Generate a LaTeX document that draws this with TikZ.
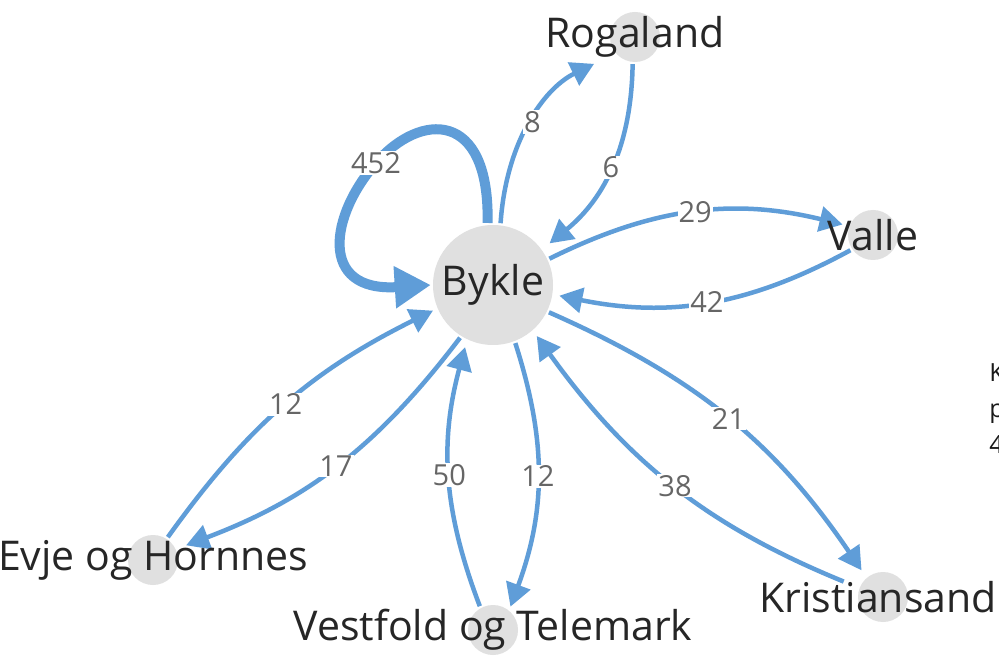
\documentclass[tikz,border=0pt]{standalone}
\usepackage{fontspec}
\setmainfont{Open Sans}
\usetikzlibrary{arrows.meta}
\definecolor{flowblue}{RGB}{95,157,216}
\definecolor{dotgray}{RGB}{224,224,224}
\begin{document}
\begin{tikzpicture}[x=1pt, y=1pt, line width=4.5pt,
    circ/.style={circle, fill=dotgray, minimum size=#1, inner sep=0pt},
    flow/.style={draw=flowblue, -{Triangle[length=23pt,width=25pt]}, shorten >=5pt},
    num/.style={fill=white, inner sep=1pt, text=black!60, font=\fontsize{29}{29}\selectfont},
    placename/.style={text=black!85, font=\fontsize{41}{41}\selectfont}]
    \fill[white] (0,0) rectangle (999,657);
    \useasboundingbox (0,0) rectangle (999,657);
    % the places, bykle in the middle
    \node[circ=120pt] (bykle) at (493,372) {};
    \foreach \p/\x/\y in {roga/635/620, valle/873/422, kris/883/60, vest/493/27, evje/153/97}{
        \node[circ=50pt] (\p) at (\x,\y) {};
    }
    % self loop, thick
    \draw[flowblue, line width=10pt, -{Triangle[length=36pt,width=40pt]}]
        (bykle.95) .. controls (490,548) and (420,545) .. (376,494) node[num]{452}
        .. controls (330,442) and (318,365) .. (bykle.180);
    % out and back
    \draw[flow, shorten >=22pt] (bykle.83) to[bend left=30] node[num]{8} (roga.219);
    \draw[flow, shorten >=8pt] (roga.265) to[bend left=25] node[num]{6} (bykle.36);
    \draw[flow] (bykle.25) to[bend left=20] node[num]{29} (valle.160);
    \draw[flow] (valle.214) to[bend left=20] node[num]{42} (bykle.351);
    \draw[flow, shorten >=7pt] (bykle.334) to[bend left=16] node[num]{21} (kris.130);
    \draw[flow, shorten <=15pt] (kris.159) to[bend left=16] node[num]{38} (bykle.311);
    \draw[flow, shorten >=2pt] (bykle.291) to[bend left=19] node[num]{12} (vest.52);
    \draw[flow, shorten >=6pt] (vest.119) to[bend left=18] node[num]{50} (bykle.245);
    \draw[flow, shorten >=3pt] (evje.57) to[bend left=14] node[num]{12} (bykle.203);
    \draw[flow, shorten >=9pt] (bykle.238) to[bend left=16] node[num]{17} (evje.25);
    % names on top
    \node[placename] (byklename) at (bykle) {Bykle};
    \node[placename] (roganame) at (roga) {Rogaland};
    \node[placename] (vallename) at (valle) {Valle};
    \node[placename, xshift=-5pt] (krisname) at (kris) {Kristiansand};
    \node[placename] (vestname) at (vest) {Vestfold og Telemark};
    \node[placename] (evjename) at (evje) {Evje og Hornnes};
    % cut off text at the right edge
    \node[anchor=north west, align=left, inner sep=0pt, text=black!90,
        font=\fontsize{25}{36}\selectfont] (side) at (987,296) {K\\p\\4};
\end{tikzpicture}
\end{document}
